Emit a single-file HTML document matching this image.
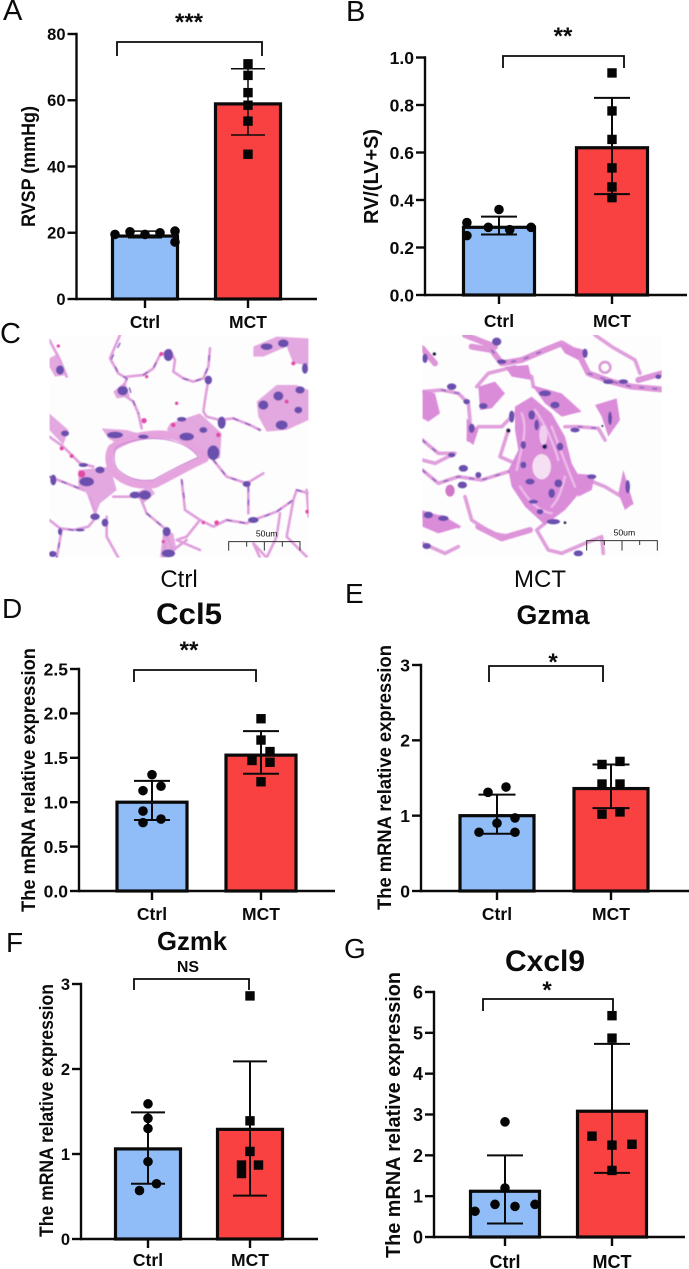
<!DOCTYPE html>
<html lang="en">
<head>
<meta charset="utf-8">
<title>RVSP and mRNA expression figure</title>
<style>
html,body{margin:0;padding:0;background:#fff;}
#figure{position:absolute;left:0;top:0;width:689px;height:1269px;overflow:hidden;background:#fff;}
svg{position:absolute;left:0;top:0;display:block;}
text{font-family:"Liberation Sans",sans-serif;fill:#0b0b0b;}
</style>
</head>
<body>
<div id="figure">

<svg style="left:0;top:330px" width="345" height="270" viewBox="0 0 1035 810">
  <defs>
    <clipPath id="clipCtrl"><rect x="148" y="15" width="778" height="668"/></clipPath>
    <clipPath id="clipMct"><rect x="232" y="15" width="718" height="665"/></clipPath>
    <filter id="soft" x="-5%" y="-5%" width="110%" height="110%"><feGaussianBlur stdDeviation="1.8"/></filter>
  </defs>
  <g clip-path="url(#clipCtrl)">
    <rect x="148" y="15" width="778" height="668" fill="#fefdfe"/>
    <g filter="url(#soft)">
      <g fill="#e4a8e0">
        <path d="M235 420L330 410L350 480L300 520L285 560L260 490L235 470Z"/>
        <path d="M510 280L600 250L665 310L660 385L620 385L560 330L500 300Z"/>
        <path d="M305 295L380 300L415 310L350 340L325 325Z"/>
        <path d="M148 250L205 300L190 345L148 300Z"/>
        <path d="M760 50L830 20L926 25L926 105L880 100L860 50L790 80L760 80Z"/>
        <path d="M770 215L830 165L890 165L926 180L926 270L860 300L800 305L775 260Z"/>
        <path d="M340 185L375 155L390 200L350 205Z"/>
        <path d="M148 85L175 70L200 135L165 140L148 110Z"/>
        <path d="M400 490L450 470L465 490L430 520Z"/>
        <path d="M490 600L520 610L530 660L480 683Z"/>
      </g>
      <g fill="none" stroke="#e6a4de" stroke-width="24" stroke-linejoin="round">
        <path d="M335 355C390 315 470 305 530 320C570 335 600 360 615 385C560 410 510 440 465 462C410 470 370 455 340 425C325 400 325 375 335 355Z"/>
      </g>
      <g fill="none" stroke="#c77fd0" stroke-width="3" stroke-linejoin="round">
        <path d="M350 350C400 325 470 318 525 335C560 345 585 365 595 382C550 400 505 425 460 450C415 455 380 445 350 415C340 395 340 370 350 350Z"/>
      </g>
      <g fill="none" stroke="#e0a0dc" stroke-width="8" stroke-linecap="round" stroke-linejoin="round">
        <path d="M360 15L330 85L355 130L380 145L365 190L400 215L415 250L425 295"/>
        <path d="M380 140L430 135L460 115L480 75L510 60L525 90L520 125L550 145L580 155L610 145L625 110L630 55"/>
        <path d="M625 150L615 210L610 245L620 260L660 270L700 265L750 285L780 300"/>
        <path d="M148 320L190 350L240 400L280 410"/>
        <path d="M148 440L200 460L250 480"/>
        <path d="M270 500L290 560L265 590L220 600L180 595L148 570"/>
        <path d="M185 600L170 683"/>
        <path d="M320 560L320 620L355 683"/>
        <path d="M340 500L420 500L440 550L500 600L490 683"/>
        <path d="M545 450L555 540L600 570L640 590L680 570L740 580L760 570L830 545L880 510L890 480L926 490"/>
        <path d="M600 570L560 620L530 630L600 660"/>
        <path d="M640 390L680 440L740 460L790 430"/>
        <path d="M745 470L745 550"/>
        <path d="M840 550L830 620L800 683L760 640L780 683"/>
        <path d="M880 510L860 620L920 680"/>
        <path d="M148 30L180 90L200 140"/>
        <path d="M920 480L926 560"/>
        <path d="M500 620L520 660L560 630"/>
      </g>
      <g fill="none" stroke="#7c5cb8" stroke-width="4" stroke-dasharray="14 26" stroke-linecap="round" stroke-linejoin="round">
        <path d="M360 40L335 85L355 130L380 145L400 215L415 250"/>
        <path d="M430 135L460 115L480 75M550 145L580 155L610 145L625 110L630 55"/>
        <path d="M700 265L750 285L780 300M148 440L200 460L250 480"/>
        <path d="M220 600L180 595M185 600L170 683M440 550L500 600M680 570L740 580L830 545L880 510M890 480L926 490"/>
        <path d="M545 450L555 520M745 470L745 550M640 390L680 440L740 460"/>
      </g>
      <g fill="#6a50ae">
        <ellipse cx="368" cy="182" rx="16" ry="14"/><ellipse cx="505" cy="75" rx="14" ry="18"/><ellipse cx="625" cy="150" rx="11" ry="13"/>
        <ellipse cx="180" cy="120" rx="12" ry="14"/><ellipse cx="345" cy="315" rx="24" ry="10"/><ellipse cx="640" cy="368" rx="18" ry="22"/>
        <ellipse cx="560" cy="320" rx="22" ry="12"/><ellipse cx="665" cy="278" rx="12" ry="18"/><ellipse cx="260" cy="455" rx="22" ry="14"/>
        <ellipse cx="300" cy="420" rx="14" ry="10"/><ellipse cx="435" cy="495" rx="18" ry="14"/><ellipse cx="405" cy="495" rx="16" ry="10"/>
        <ellipse cx="285" cy="560" rx="14" ry="10"/><ellipse cx="315" cy="578" rx="10" ry="12"/><ellipse cx="500" cy="605" rx="12" ry="14"/>
        <ellipse cx="505" cy="670" rx="20" ry="12"/><ellipse cx="760" cy="570" rx="16" ry="9"/><ellipse cx="740" cy="462" rx="12" ry="9"/>
        <ellipse cx="790" cy="225" rx="15" ry="14"/><ellipse cx="835" cy="198" rx="15" ry="14"/><ellipse cx="845" cy="285" rx="18" ry="14"/>
        <ellipse cx="800" cy="50" rx="18" ry="10"/><ellipse cx="850" cy="40" rx="16" ry="12"/><ellipse cx="915" cy="115" rx="9" ry="16"/>
        <ellipse cx="900" cy="180" rx="14" ry="11"/><ellipse cx="195" cy="310" rx="12" ry="9"/><ellipse cx="160" cy="450" rx="9" ry="16"/>
        <ellipse cx="180" cy="605" rx="6" ry="10"/><ellipse cx="158" cy="672" rx="12" ry="9"/><ellipse cx="430" cy="320" rx="16" ry="6"/>
        <ellipse cx="250" cy="405" rx="14" ry="6"/><ellipse cx="240" cy="600" rx="14" ry="4"/><ellipse cx="610" cy="300" rx="12" ry="9"/>
        <ellipse cx="545" cy="268" rx="14" ry="7"/><ellipse cx="895" cy="240" rx="12" ry="10"/><ellipse cx="200" cy="635" rx="0" ry="0"/>
      </g>
      <g fill="#e24aa6">
        <circle cx="245" cy="432" r="11"/><circle cx="185" cy="355" r="6"/><circle cx="215" cy="378" r="6"/><circle cx="432" cy="272" r="8"/>
        <circle cx="520" cy="285" r="7"/><circle cx="484" cy="72" r="6"/><circle cx="440" cy="140" r="5"/><circle cx="530" cy="220" r="5"/>
        <circle cx="880" cy="100" r="6"/><circle cx="860" cy="215" r="6"/><circle cx="650" cy="578" r="7"/><circle cx="610" cy="578" r="5"/>
        <circle cx="655" cy="315" r="7"/><circle cx="922" cy="545" r="6"/><circle cx="175" cy="48" r="5"/><circle cx="490" cy="635" r="5"/>
      </g>
    </g>
    <g fill="none" stroke="#333" stroke-width="3">
      <path d="M686 662V635H900V662M740 635V650M793 635V662M847 635V650"/>
    </g>
    <text x="800" y="620" font-size="26" text-anchor="middle">50um</text>
  </g>
</svg>

<svg style="left:345px;top:330px" width="344" height="270" viewBox="0 0 1032 810">
  <g clip-path="url(#clipMct)">
    <rect x="232" y="15" width="718" height="665" fill="#fefdfe"/>
    <g filter="url(#soft)">
      <g fill="none" stroke="#dfa0dc" stroke-width="11" stroke-linecap="round" stroke-linejoin="round">
        <path d="M395 170L430 130L510 110L560 140L565 170"/>
        <path d="M232 185L290 180L340 190L370 220L375 270L370 330L400 290L470 290L510 250"/>
        <path d="M232 330L280 370L330 370"/>
        <path d="M232 390L270 400L320 375"/>
        <path d="M232 420L280 460L340 440L410 450L490 425"/>
        <path d="M232 560L290 560L340 590"/>
        <path d="M360 500L380 570L440 610L500 620L555 600"/>
        <path d="M232 640L300 670L340 650"/>
        <path d="M600 580L575 600L610 660L650 670L720 640L770 620L775 670"/>
        <path d="M660 290L700 290L760 295L780 330"/>
        <path d="M730 450L780 470L830 500L860 520"/>
        <path d="M490 300L465 380L510 400"/>
        <path d="M750 15L800 50L870 90L885 130"/>
      </g>
      <g fill="none" stroke="#dd94d8" stroke-width="18" stroke-linecap="round" stroke-linejoin="round">
        <path d="M232 55L270 100"/>
        <path d="M380 50L440 60L470 100L530 90L600 60L650 40L700 70L730 130L800 155L860 170L950 178"/>
        <path d="M880 150L950 130"/>
        <path d="M360 15L450 50"/>
        <path d="M400 590L470 625L555 600"/>
        <path d="M232 550L300 570"/>
      </g>
      <g fill="#da8cd9">
        <path d="M510 230L560 200L620 250L660 320L680 400L720 470L660 540L600 585L540 530L500 470L490 420L520 360L510 300Z"/>
        <path d="M400 170L450 155L480 190L440 235L405 240Z"/>
        <path d="M232 180L270 190L285 250L250 275L232 265Z"/>
        <path d="M560 165L650 190L710 245L650 260L600 220Z"/>
        <path d="M750 225L815 205L825 270L790 320L770 260Z"/>
        <path d="M835 420L865 520L840 540L820 490Z"/>
        <path d="M365 265L400 300L385 345L365 330Z"/>
        <path d="M680 430L750 435L740 480L700 500Z"/>
        <path d="M232 545L290 560L350 590L280 610L232 590Z"/>
        <path d="M640 40L720 60L700 90L660 70Z"/>
        <path d="M480 110L550 105L560 150L500 140Z"/>
      </g>
      <g fill="none" stroke="#eeb9ea" stroke-width="7" stroke-linecap="round">
        <path d="M530 250C550 300 530 350 515 420M620 290C640 340 660 400 690 470M525 470C550 510 580 545 620 550M660 440C650 480 640 510 620 530M570 240C600 280 625 340 640 390"/>
      </g>
      <ellipse cx="590" cy="410" rx="28" ry="38" fill="#f5dff3"/>
      <ellipse cx="595" cy="315" rx="12" ry="30" fill="#f2cfee"/>
      <ellipse cx="315" cy="482" rx="14" ry="18" fill="#cf78c8"/>
      <ellipse cx="780" cy="112" rx="16" ry="16" fill="none" stroke="#d99ad6" stroke-width="8"/>
      <g fill="none" stroke="#7c5cb8" stroke-width="4" stroke-dasharray="12 28" stroke-linecap="round">
        <path d="M232 420L280 460L340 440L410 450L490 425M440 60L470 100L530 90L600 60M730 130L800 155L860 170L950 178"/>
        <path d="M290 180L340 190L370 220M700 290L760 295M232 330L280 370"/>
      </g>
      <g fill="#6a50ae">
        <ellipse cx="455" cy="35" rx="14" ry="12"/><ellipse cx="240" cy="85" rx="8" ry="14"/><ellipse cx="470" cy="95" rx="14" ry="7"/>
        <ellipse cx="320" cy="170" rx="14" ry="10"/><ellipse cx="365" cy="215" rx="10" ry="8"/><ellipse cx="415" cy="228" rx="13" ry="9"/>
        <ellipse cx="600" cy="190" rx="18" ry="9"/><ellipse cx="630" cy="225" rx="14" ry="10"/><ellipse cx="560" cy="255" rx="10" ry="14"/>
        <ellipse cx="575" cy="285" rx="7" ry="16"/><ellipse cx="600" cy="350" rx="7" ry="8"/><ellipse cx="535" cy="345" rx="8" ry="12"/>
        <ellipse cx="645" cy="350" rx="10" ry="12"/><ellipse cx="535" cy="405" rx="9" ry="10"/><ellipse cx="555" cy="455" rx="14" ry="9"/>
        <ellipse cx="640" cy="460" rx="12" ry="12"/><ellipse cx="620" cy="490" rx="10" ry="14"/><ellipse cx="565" cy="515" rx="14" ry="6"/>
        <ellipse cx="585" cy="545" rx="10" ry="8"/><ellipse cx="625" cy="575" rx="20" ry="8"/><ellipse cx="690" cy="300" rx="14" ry="7"/>
        <ellipse cx="500" cy="260" rx="8" ry="18"/><ellipse cx="355" cy="415" rx="14" ry="10"/><ellipse cx="352" cy="465" rx="14" ry="10"/>
        <ellipse cx="400" cy="435" rx="9" ry="9"/><ellipse cx="320" cy="375" rx="11" ry="7"/><ellipse cx="250" cy="555" rx="14" ry="10"/>
        <ellipse cx="295" cy="565" rx="16" ry="8"/><ellipse cx="245" cy="648" rx="13" ry="9"/><ellipse cx="790" cy="155" rx="16" ry="7"/>
        <ellipse cx="835" cy="155" rx="14" ry="7"/><ellipse cx="795" cy="265" rx="6" ry="20"/><ellipse cx="848" cy="470" rx="7" ry="20"/>
        <ellipse cx="940" cy="140" rx="9" ry="7"/><ellipse cx="720" cy="70" rx="8" ry="14"/><ellipse cx="740" cy="440" rx="14" ry="7"/>
        <ellipse cx="380" cy="295" rx="9" ry="14"/><ellipse cx="700" cy="670" rx="14" ry="9"/>
      </g>
      <g fill="#1d1848">
        <circle cx="490" cy="302" r="6"/><circle cx="598" cy="350" r="6"/><circle cx="660" cy="578" r="4"/><circle cx="268" cy="72" r="5"/><circle cx="772" cy="288" r="3"/>
      </g>
    </g>
    <g fill="none" stroke="#333" stroke-width="3">
      <path d="M725 662V632H937V662M778 632V645M831 632V662M884 632V645"/>
    </g>
    <text x="838" y="616" font-size="26" text-anchor="middle">50um</text>
  </g>
</svg>

<svg id="charts" width="689" height="1269" viewBox="0 0 689 1269">
  <text x="3" y="20" font-size="29">A</text>
  <text x="346" y="21" font-size="29">B</text>
  <text x="0" y="343" font-size="29">C</text>
  <text x="2" y="618" font-size="28">D</text>
  <text x="345" y="603" font-size="28">E</text>
  <text x="6" y="952" font-size="28">F</text>
  <text x="344" y="958" font-size="28">G</text>
  <text x="179" y="587" font-size="24" text-anchor="middle">Ctrl</text>
  <text x="540" y="587" font-size="24" text-anchor="middle">MCT</text>
</svg>
</div>

<script>
const categories = ['Ctrl', 'MCT'];

const aTicks = [0, 20, 40, 60, 80];
const aTickLabels = ['0', '20', '40', '60', '80'];
const aMeans = [19, 58.9];
const aSdLow = [18.5, 49.5];
const aSdHigh = [20.5, 69.5];
const aCtrlValues = [19.5, 20.3, 19.5, 20, 20.5, 17.2];
const aMctValues = [71, 67.5, 62.3, 58.5, 53.7, 43.7];
const aCtrlJitter = [-2, -1, 0, 1, 2, 2];
const aMctJitter = [0, 0, 0, 0, 0, 0];

const bTicks = [0, 0.2, 0.4, 0.6, 0.8, 1];
const bTickLabels = ['0.0', '0.2', '0.4', '0.6', '0.8', '1.0'];
const bMeans = [0.285, 0.62];
const bSdLow = [0.255, 0.425];
const bSdHigh = [0.33, 0.83];
const bCtrlValues = [0.305, 0.285, 0.36, 0.275, 0.285, 0.25];
const bMctValues = [0.935, 0.775, 0.655, 0.535, 0.455, 0.41];
const bCtrlJitter = [-3, -1, 0, 1, 3, -3];
const bMctJitter = [0, 0, 0, 0, 0, 0];

const dTicks = [0, 0.5, 1, 1.5, 2, 2.5];
const dTickLabels = ['0.0', '0.5', '1.0', '1.5', '2.0', '2.5'];
const dMeans = [1.0, 1.53];
const dSdLow = [0.8, 1.32];
const dSdHigh = [1.24, 1.8];
const dCtrlValues = [1.31, 1.13, 1.18, 0.9, 0.81, 0.77];
const dMctValues = [1.94, 1.7, 1.57, 1.47, 1.45, 1.23];
const dCtrlJitter = [0, -1, 1, -1, 1, -1];
const dMctJitter = [0, 0, 1, -1, 1, 0];

const eTicks = [0, 1, 2, 3];
const eTickLabels = ['0', '1', '2', '3'];
const eMeans = [1.0, 1.36];
const eSdLow = [0.76, 1.1];
const eSdHigh = [1.28, 1.68];
const eCtrlValues = [1.38, 1.31, 0.97, 0.9, 0.78, 0.78];
const eMctValues = [1.72, 1.68, 1.42, 1.42, 1.05, 1.02];
const eCtrlJitter = [1, -1, 2, 0, -2, 2];
const eMctJitter = [1, -1, -1, 1, 1, -1];

const fTicks = [0, 1, 2, 3];
const fTickLabels = ['0', '1', '2', '3'];
const fMeans = [1.06, 1.29];
const fSdLow = [0.65, 0.51];
const fSdHigh = [1.49, 2.09];
const fCtrlValues = [1.59, 1.42, 1.3, 0.91, 0.65, 0.57];
const fMctValues = [2.86, 1.39, 1.03, 0.87, 0.87, 0.77];
const fCtrlJitter = [0, 0, 0, 0, 1, -1];
const fMctJitter = [0, 0, 0, -1, 1, -1];

const gTicks = [0, 1, 2, 3, 4, 5, 6];
const gTickLabels = ['0', '1', '2', '3', '4', '5', '6'];
const gMeans = [1.12, 3.08];
const gSdLow = [0.33, 1.57];
const gSdHigh = [2.0, 4.73];
const gCtrlValues = [2.82, 1.2, 0.8, 0.75, 0.8, 0.63];
const gMctValues = [5.42, 4.87, 2.47, 2.25, 2.27, 1.63];
const gCtrlJitter = [0, 0, -1, 1, 3, -3];
const gMctJitter = [0, 0, -2, 0, 2, 0];

const layoutA = {id:'a', axisX:76.5, y0:299, yTop:34, right:317, cx:[145,248], barHalf:32.5, capHalf:17, errW:1.5, jitterStep:15,
  brY:42, brX:[117,262], brBottom:56, sigText:'***', sigX:189, sigY:30, sigSize:24, catY:328, catSize:17.5, tickSize:16.5,
  yTitle:'RVSP (mmHg)', yTitleX:35, yTitleMid:166.5, yTitleLen:121, yTitleSize:19};
const layoutB = {id:'b', axisX:425, y0:295, yTop:57.5, right:687, cx:[499,612], barHalf:35.5, capHalf:18, errW:2, jitterStep:10.7,
  brY:56, brX:[503,624], brBottom:68, sigText:'**', sigX:563, sigY:44, sigSize:24, catY:327, catSize:17.5, tickSize:17.5,
  yTitle:'RV/(LV+S)', yTitleX:378, yTitleMid:176.5, yTitleLen:95, yTitleSize:20};
const layoutD = {id:'d', axisX:79, y0:891, yTop:669, right:335, cx:[152,261], barHalf:35, capHalf:18, errW:2, jitterStep:9,
  brY:670, brX:[134,256], brBottom:682, sigText:'**', sigX:189, sigY:658, sigSize:24, catY:920, catSize:17.5, tickSize:17.5,
  yTitle:'The mRNA relative expression', yTitleX:35, yTitleMid:780, yTitleLen:264, yTitleSize:19.5,
  title:'Ccl5', titleX:189, titleY:624, titleSize:30, titleLen:66};
const layoutE = {id:'e', axisX:421, y0:891, yTop:665, right:689, cx:[497,611], barHalf:37, capHalf:18.5, errW:2, jitterStep:9,
  brY:666, brX:[489,603], brBottom:682, sigText:'*', sigX:553, sigY:670, sigSize:24, catY:920, catSize:17.5, tickSize:17.5,
  yTitle:'The mRNA relative expression', yTitleX:391, yTitleMid:777.5, yTitleLen:265, yTitleSize:19.5,
  title:'Gzma', titleX:553, titleY:624, titleSize:27, titleLen:73};
const layoutF = {id:'f', axisX:81, y0:1239, yTop:984, right:318, cx:[148,250], barHalf:32.5, capHalf:17, errW:2, jitterStep:8.5,
  brY:979, brX:[134,249], brBottom:990, sigText:'NS', sigX:188, sigY:972, sigSize:16, catY:1266, catSize:17.5, tickSize:16.5,
  yTitle:'The mRNA relative expression', yTitleX:53, yTitleMid:1110.5, yTitleLen:253, yTitleSize:19,
  title:'Gzmk', titleX:192, titleY:950, titleSize:25.7, titleLen:70};
const layoutG = {id:'g', axisX:434, y0:1237, yTop:992, right:685, cx:[505,612], barHalf:34.5, capHalf:18, errW:2, jitterStep:10,
  brY:999, brX:[483,613], brBottom:1011, sigText:'*', sigX:547, sigY:998, sigSize:24, catY:1268, catSize:18, tickSize:18,
  yTitle:'The mRNA relative expression', yTitleX:400, yTitleMid:1115, yTitleLen:286, yTitleSize:20.5,
  title:'Cxcl9', titleX:545, titleY:971, titleSize:30, titleLen:80};

const NS = 'http://www.w3.org/2000/svg';
const root = document.getElementById('charts');
const barFills = ['#90bdf8', '#fa4141'];

function mk(tag, parent, attrs, txt) {
  const n = document.createElementNS(NS, tag);
  for (const k in attrs) n.setAttribute(k, attrs[k]);
  if (txt !== undefined) n.textContent = txt;
  parent.appendChild(n);
  return n;
}

function drawPanel(L, ticks, tickLabels, means, sdLow, sdHigh, ctrlValues, mctValues, ctrlJitter, mctJitter) {
  const maxV = ticks[ticks.length - 1];
  const yScale = v => L.y0 - (v / maxV) * (L.y0 - L.yTop);
  const g = mk('g', root, {});
  
  

  categories.forEach((c, i) => {
    const top = yScale(means[i]);
    const bar = mk('rect', g, {x: L.cx[i] - L.barHalf, y: top, width: L.barHalf * 2, height: L.y0 - top, fill: barFills[i], stroke: '#0a0a0a', 'stroke-width': 3.2});
    
    
  });

  categories.forEach((c, i) => {
    const eb = mk('path', g, {
      d: 'M' + L.cx[i] + ' ' + yScale(sdLow[i]) + 'V' + yScale(sdHigh[i]) +
         'M' + (L.cx[i] - L.capHalf) + ' ' + yScale(sdHigh[i]) + 'H' + (L.cx[i] + L.capHalf) +
         'M' + (L.cx[i] - L.capHalf) + ' ' + yScale(sdLow[i]) + 'H' + (L.cx[i] + L.capHalf),
      fill: 'none', stroke: '#0a0a0a', 'stroke-width': L.errW});
    
    
  });

  ctrlValues.forEach((v, i) => {
    const dot = mk('circle', g, {cx: L.cx[0] + ctrlJitter[i] * L.jitterStep, cy: yScale(v), r: 4.8, fill: '#050505'});
    
    
  });
  mctValues.forEach((v, i) => {
    const sq = mk('rect', g, {x: L.cx[1] + mctJitter[i] * L.jitterStep - 4.7, y: yScale(v) - 4.7, width: 9.4, height: 9.4, fill: '#050505'});
    
    
  });

  const axisY = mk('line', g, {x1: L.axisX, x2: L.axisX, y1: L.yTop - 1.2, y2: L.y0 + 1.2, stroke: '#0a0a0a', 'stroke-width': 2.4});
  
  
  const axisX = mk('line', g, {x1: L.axisX, x2: L.right, y1: L.y0, y2: L.y0, stroke: '#0a0a0a', 'stroke-width': 2.4});
  
  

  ticks.forEach((t, i) => {
    const y = yScale(t);
    const tk = mk('line', g, {x1: L.axisX - 9, x2: L.axisX, y1: y, y2: y, stroke: '#0a0a0a', 'stroke-width': 2.4});
    
    
    const lb = mk('text', g, {x: L.axisX - 11, y: y + L.tickSize * 0.36, 'font-size': L.tickSize, 'font-weight': 'bold', 'text-anchor': 'end'}, tickLabels[i]);
    
    
  });

  categories.forEach((c, i) => {
    const tk = mk('line', g, {x1: L.cx[i], x2: L.cx[i], y1: L.y0, y2: L.y0 + 9, stroke: '#0a0a0a', 'stroke-width': 2.4});
    
    
    const lb = mk('text', g, {x: L.cx[i], y: L.catY, 'font-size': L.catSize, 'font-weight': 'bold', 'text-anchor': 'middle'}, c);
    
    
  });

  const br = mk('path', g, {d: 'M' + L.brX[0] + ' ' + L.brBottom + 'V' + L.brY + 'H' + L.brX[1] + 'V' + L.brBottom, fill: 'none', stroke: '#0a0a0a', 'stroke-width': 1.8});
  
  
  const sig = mk('text', g, {x: L.sigX, y: L.sigY, 'font-size': L.sigSize, 'font-weight': 'bold', 'text-anchor': 'middle'}, L.sigText);
  
  

  const yt = mk('text', g, {
    transform: 'translate(' + L.yTitleX + ' ' + L.yTitleMid + ') rotate(-90)',
    'font-size': L.yTitleSize, 'font-weight': 'bold', 'text-anchor': 'middle',
    textLength: L.yTitleLen, lengthAdjust: 'spacingAndGlyphs'}, L.yTitle);
  
  

  if (L.title) {
    const tt = mk('text', g, {x: L.titleX, y: L.titleY, 'font-size': L.titleSize, 'font-weight': 'bold', 'text-anchor': 'middle', textLength: L.titleLen, lengthAdjust: 'spacingAndGlyphs'}, L.title);
    
    
  }
}

drawPanel(layoutA, aTicks, aTickLabels, aMeans, aSdLow, aSdHigh, aCtrlValues, aMctValues, aCtrlJitter, aMctJitter);
drawPanel(layoutB, bTicks, bTickLabels, bMeans, bSdLow, bSdHigh, bCtrlValues, bMctValues, bCtrlJitter, bMctJitter);
drawPanel(layoutD, dTicks, dTickLabels, dMeans, dSdLow, dSdHigh, dCtrlValues, dMctValues, dCtrlJitter, dMctJitter);
drawPanel(layoutE, eTicks, eTickLabels, eMeans, eSdLow, eSdHigh, eCtrlValues, eMctValues, eCtrlJitter, eMctJitter);
drawPanel(layoutF, fTicks, fTickLabels, fMeans, fSdLow, fSdHigh, fCtrlValues, fMctValues, fCtrlJitter, fMctJitter);
drawPanel(layoutG, gTicks, gTickLabels, gMeans, gSdLow, gSdHigh, gCtrlValues, gMctValues, gCtrlJitter, gMctJitter);
</script>
</body>
</html>
